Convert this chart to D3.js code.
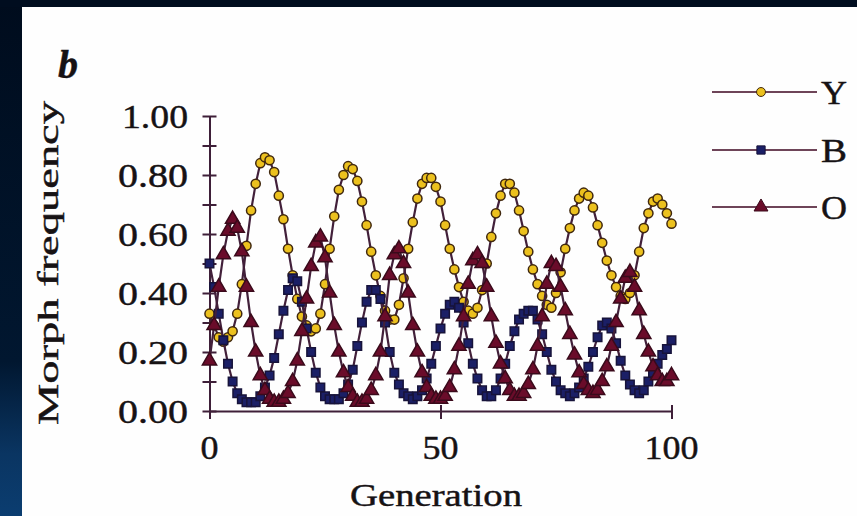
<!DOCTYPE html>
<html>
<head>
<meta charset="utf-8">
<script src="https://cdn.jsdelivr.net/npm/d3@7/dist/d3.min.js"></script>
<style>
  html, body { margin: 0; padding: 0; background: #000d1f; }
  svg { display: block; }
  text { font-family: "Liberation Serif", "Times New Roman", Times, serif; stroke: #161214; stroke-width: 0.45px; }
</style>
</head>
<body>
<svg id="chart" width="857" height="516"></svg>
<script>
// Morph frequencies of the three throat-colour morphs over 100 generations
const generations = d3.range(0, 101);

const morphY = [
  0.33, 0.29, 0.25, 0.235, 0.25, 0.27, 0.33, 0.43, 0.56, 0.68,
  0.77, 0.84, 0.86, 0.85, 0.81, 0.73, 0.65, 0.55, 0.46, 0.38,
  0.32, 0.29, 0.27, 0.28, 0.33, 0.43, 0.55, 0.66, 0.75, 0.80,
  0.83, 0.82, 0.78, 0.71, 0.63, 0.54, 0.46, 0.39, 0.34, 0.31,
  0.31, 0.36, 0.45, 0.55, 0.64, 0.72, 0.77, 0.79, 0.79, 0.76,
  0.71, 0.63, 0.55, 0.48, 0.42, 0.37, 0.34, 0.33, 0.35, 0.41,
  0.50, 0.59, 0.67, 0.73, 0.77, 0.77, 0.74, 0.68, 0.61, 0.54,
  0.48, 0.43, 0.39, 0.36, 0.35, 0.40, 0.47, 0.55, 0.62, 0.68,
  0.72, 0.74, 0.73, 0.69, 0.63, 0.57, 0.51, 0.46, 0.42, 0.39,
  0.38, 0.40, 0.46, 0.54, 0.62, 0.67, 0.71, 0.72, 0.70, 0.67,
  0.635
];

const morphB = [
  0.50, 0.42, 0.33, 0.24, 0.16, 0.10, 0.06, 0.04, 0.03, 0.03,
  0.03, 0.05, 0.08, 0.12, 0.18, 0.26, 0.34, 0.41, 0.45, 0.44,
  0.37, 0.28, 0.20, 0.13, 0.08, 0.05, 0.04, 0.04, 0.04, 0.06,
  0.09, 0.14, 0.22, 0.30, 0.37, 0.41, 0.41, 0.38, 0.30, 0.20,
  0.13, 0.09, 0.06, 0.05, 0.04, 0.05, 0.07, 0.11, 0.16, 0.22,
  0.28, 0.33, 0.36, 0.37, 0.35, 0.30, 0.23, 0.16, 0.11, 0.07,
  0.05, 0.05, 0.07, 0.11, 0.16, 0.22, 0.27, 0.31, 0.33, 0.34,
  0.34, 0.31, 0.26, 0.20, 0.14, 0.10, 0.07, 0.06, 0.05, 0.06,
  0.08, 0.11, 0.15, 0.20, 0.25, 0.29, 0.30, 0.28, 0.23, 0.17,
  0.12, 0.09, 0.07, 0.06, 0.07, 0.10, 0.13, 0.16, 0.19, 0.21,
  0.24
];

const morphO = [
  0.17, 0.29, 0.42, 0.53, 0.61, 0.65, 0.62, 0.54, 0.42, 0.30,
  0.20, 0.12, 0.07, 0.04, 0.03, 0.03, 0.04, 0.06, 0.10, 0.17,
  0.27, 0.38, 0.49, 0.57, 0.59, 0.52, 0.40, 0.29, 0.20, 0.13,
  0.08, 0.05, 0.03, 0.03, 0.04, 0.07, 0.12, 0.20, 0.32, 0.46,
  0.53, 0.55, 0.50, 0.40, 0.29, 0.20, 0.13, 0.08, 0.05, 0.04,
  0.04, 0.05, 0.08, 0.14, 0.22, 0.32, 0.43, 0.51, 0.53, 0.50,
  0.42, 0.32, 0.23, 0.16, 0.11, 0.07, 0.05, 0.05, 0.06, 0.09,
  0.14, 0.22, 0.32, 0.43, 0.50, 0.49, 0.42, 0.34, 0.26, 0.19,
  0.13, 0.09, 0.07, 0.06, 0.07, 0.10, 0.15, 0.22, 0.30, 0.38,
  0.45, 0.47, 0.42, 0.34, 0.26, 0.20, 0.15, 0.12, 0.10, 0.10,
  0.12
];

const yTickValues = [0, 0.2, 0.4, 0.6, 0.8, 1.0];
const yMinorTicks = d3.range(0, 11).map(i => i / 10);
const xTickValues = [0, 50, 100];
const legendNames = ["Y", "B", "O"];

const series = [
  { name: "Y", values: morphY, symbol: d3.symbolCircle, size: 66, fill: "#ecc11e", stroke: "#40280e" },
  { name: "B", values: morphB, symbol: d3.symbolSquare, size: 72, fill: "#1b1f66", stroke: "#17133a" },
  { name: "O", values: morphO, symbol: d3.symbolTriangle, size: 88, fill: "#6a0c2a", stroke: "#3a0a1b" }
];

const svg = d3.select("#chart");

// page backdrop and white figure panel
const defs = svg.append("defs");
const grad = defs.append("linearGradient").attr("id", "edge")
  .attr("x1", 0).attr("y1", 0).attr("x2", 0).attr("y2", 1);
grad.append("stop").attr("offset", "0%").attr("stop-color", "#000c1d");
grad.append("stop").attr("offset", "70%").attr("stop-color", "#011730");
grad.append("stop").attr("offset", "88%").attr("stop-color", "#0a3562");
grad.append("stop").attr("offset", "100%").attr("stop-color", "#0b3d70");
svg.append("rect").attr("width", 857).attr("height", 516).attr("fill", "url(#edge)");
svg.append("rect").attr("x", 0).attr("y", 0).attr("width", 857).attr("height", 7).attr("fill", "#000d1f");
svg.append("rect").attr("x", 22).attr("y", 7).attr("width", 835).attr("height", 509).attr("fill", "#fefefe");

const x = d3.scaleLinear().domain([0, 100]).range([209.5, 671.5]);
const y = d3.scaleLinear().domain([0, 1]).range([411, 116]);

const axisColor = "#3e1f38";
const textColor = "#161214";

// y axis: spine with crossing ticks every 0.1
const yAxis = svg.append("g").attr("transform", `translate(${x(0)},0)`)
  .call(d3.axisLeft(y).tickValues(yMinorTicks).tickSize(7).tickSizeOuter(0).tickFormat(""));
yAxis.selectAll(".tick line").attr("x2", 7).attr("x1", -7);
yAxis.selectAll("line, path").attr("stroke", axisColor).attr("stroke-width", 2);

// x axis
const xAxis = svg.append("g").attr("transform", `translate(0,${y(0)})`)
  .call(d3.axisBottom(x).tickValues(xTickValues).tickSize(7).tickSizeOuter(0).tickFormat(""));
xAxis.selectAll(".tick line").attr("y1", -6).attr("y2", 8);
xAxis.selectAll("line, path").attr("stroke", axisColor).attr("stroke-width", 2);

// tick labels
svg.append("g").selectAll("text").data(yTickValues).join("text")
  .attr("x", 188).attr("y", d => y(d) + 12)
  .attr("text-anchor", "end")
  .attr("font-size", 33).attr("fill", textColor)
  .attr("textLength", d => d === 1 ? 66 : 70).attr("lengthAdjust", "spacingAndGlyphs")
  .text(d => d.toFixed(2));

svg.append("g").selectAll("text").data(xTickValues).join("text")
  .attr("x", d => x(d)).attr("y", 459)
  .attr("text-anchor", "middle")
  .attr("font-size", 33).attr("fill", textColor)
  .attr("textLength", d => String(d).length * 18).attr("lengthAdjust", "spacingAndGlyphs")
  .text(d => String(d));

// axis titles and panel letter
svg.append("text").attr("x", 436).attr("y", 506)
  .attr("text-anchor", "middle").attr("font-size", 31)
  .attr("fill", textColor).attr("textLength", 172).attr("lengthAdjust", "spacingAndGlyphs")
  .text("Generation");

svg.append("text").attr("transform", "translate(58,263) rotate(-90)")
  .attr("text-anchor", "middle").attr("font-size", 29)
  .attr("fill", textColor).attr("textLength", 324).attr("lengthAdjust", "spacingAndGlyphs")
  .text("Morph frequency");

svg.append("text").attr("x", 58).attr("y", 78)
  .attr("font-size", 40).attr("font-style", "italic")
  .attr("font-weight", "bold").attr("fill", textColor)
  .text("b");

// series lines then markers
const line = d3.line().x((d, i) => x(generations[i])).y(d => y(d));

series.forEach(s => {
  const g = svg.append("g");
  g.append("path").datum(s.values).attr("d", line)
    .attr("fill", "none").attr("stroke", "#42203a").attr("stroke-width", 2.2);
  g.selectAll("path.mk").data(s.values).join("path").attr("class", "mk")
    .attr("transform", (d, i) => `translate(${x(generations[i])},${y(d)})`)
    .attr("d", d3.symbol().type(s.symbol).size(s.size))
    .attr("fill", s.fill).attr("stroke", s.stroke).attr("stroke-width", 1.5);
});

// legend
const legendRows = [92, 150, 207];
const legend = svg.append("g");
series.forEach((s, i) => {
  const ly = legendRows[i];
  legend.append("line").attr("x1", 712).attr("x2", 817).attr("y1", ly).attr("y2", ly)
    .attr("stroke", "#6e4458").attr("stroke-width", 2);
  legend.append("path").attr("transform", `translate(761,${ly})`)
    .attr("d", d3.symbol().type(s.symbol).size(s.size * 0.95))
    .attr("fill", s.fill).attr("stroke", s.stroke).attr("stroke-width", 1);
  legend.append("text").attr("x", 821).attr("y", ly + 12)
    .attr("font-size", 33).attr("fill", textColor)
    .attr("textLength", 26).attr("lengthAdjust", "spacingAndGlyphs")
    .text(legendNames[i]);
});
</script>
</body>
</html>
